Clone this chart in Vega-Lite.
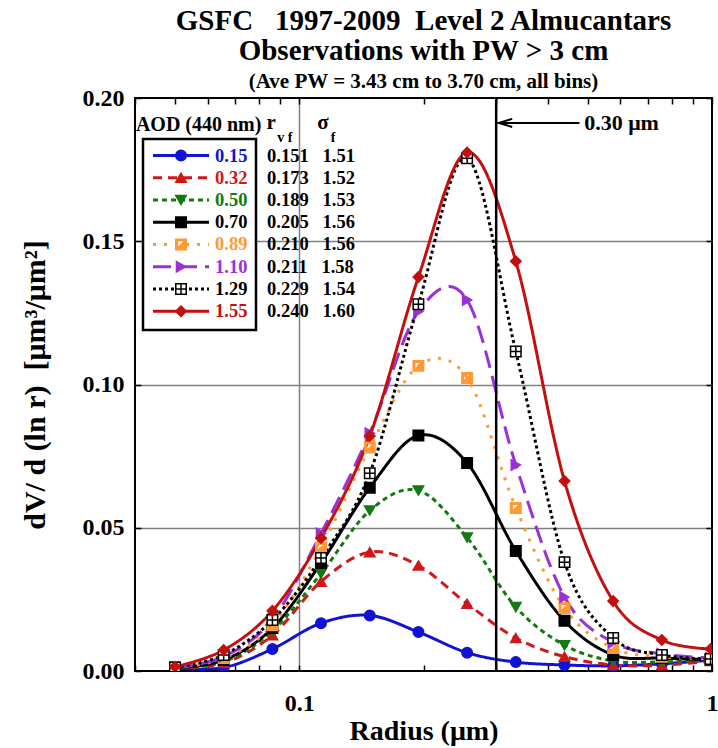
{
  "$schema": "https://vega.github.io/schema/vega-lite/v6.json",
  "width": 577,
  "height": 573,
  "autosize": {"type": "none"},
  "padding": {"left": 135, "top": 98, "right": 6, "bottom": 77},
  "background": "white",
  "config": {
    "view": {"stroke": "black", "strokeWidth": 2},
    "font": "Liberation Serif",
    "text": {"font": "Liberation Serif", "fontWeight": "bold", "color": "black"}
  },
  "title": {
    "text": ["GSFC\u00a0\u00a0\u00a01997-2009\u00a0\u00a0Level 2 Almucantars", "Observations with PW > 3 cm"],
    "subtitle": "(Ave PW = 3.43 cm to 3.70 cm, all bins)",
    "anchor": "middle",
    "font": "Liberation Serif",
    "fontSize": 29,
    "fontWeight": "bold",
    "color": "black",
    "lineHeight": 30,
    "subtitleFont": "Liberation Serif",
    "subtitleFontSize": 21,
    "subtitleFontWeight": "bold",
    "subtitleColor": "black",
    "subtitlePadding": 5,
    "offset": -6
  },
  "datasets": {
    "params": [
      {"AOD": "0.15", "rvf": "0.151", "sigma": "1.51"},
      {"AOD": "0.32", "rvf": "0.173", "sigma": "1.52"},
      {"AOD": "0.50", "rvf": "0.189", "sigma": "1.53"},
      {"AOD": "0.70", "rvf": "0.205", "sigma": "1.56"},
      {"AOD": "0.89", "rvf": "0.210", "sigma": "1.56"},
      {"AOD": "1.10", "rvf": "0.211", "sigma": "1.58"},
      {"AOD": "1.29", "rvf": "0.229", "sigma": "1.54"},
      {"AOD": "1.55", "rvf": "0.240", "sigma": "1.60"}
    ],
    "curves": [
      {"AOD": "0.15", "r": 0.05, "dv": 0.0010}, {"AOD": "0.15", "r": 0.0656, "dv": 0.0012}, {"AOD": "0.15", "r": 0.0861, "dv": 0.0077}, {"AOD": "0.15", "r": 0.1129, "dv": 0.0167}, {"AOD": "0.15", "r": 0.1482, "dv": 0.0194}, {"AOD": "0.15", "r": 0.1944, "dv": 0.0136}, {"AOD": "0.15", "r": 0.2551, "dv": 0.0064}, {"AOD": "0.15", "r": 0.3347, "dv": 0.0031}, {"AOD": "0.15", "r": 0.4392, "dv": 0.0021}, {"AOD": "0.15", "r": 0.5762, "dv": 0.0018}, {"AOD": "0.15", "r": 0.7561, "dv": 0.0025}, {"AOD": "0.15", "r": 0.992, "dv": 0.0038},
      {"AOD": "0.32", "r": 0.05, "dv": 0.0012}, {"AOD": "0.32", "r": 0.0656, "dv": 0.0028}, {"AOD": "0.32", "r": 0.0861, "dv": 0.0125}, {"AOD": "0.32", "r": 0.1129, "dv": 0.0312}, {"AOD": "0.32", "r": 0.1482, "dv": 0.0415}, {"AOD": "0.32", "r": 0.1944, "dv": 0.0368}, {"AOD": "0.32", "r": 0.2551, "dv": 0.0235}, {"AOD": "0.32", "r": 0.3347, "dv": 0.0115}, {"AOD": "0.32", "r": 0.4392, "dv": 0.0050}, {"AOD": "0.32", "r": 0.5762, "dv": 0.0021}, {"AOD": "0.32", "r": 0.7561, "dv": 0.0020}, {"AOD": "0.32", "r": 0.992, "dv": 0.0035},
      {"AOD": "0.50", "r": 0.05, "dv": 0.0012}, {"AOD": "0.50", "r": 0.0656, "dv": 0.0032}, {"AOD": "0.50", "r": 0.0861, "dv": 0.0140}, {"AOD": "0.50", "r": 0.1129, "dv": 0.0340}, {"AOD": "0.50", "r": 0.1482, "dv": 0.0560}, {"AOD": "0.50", "r": 0.1944, "dv": 0.0630}, {"AOD": "0.50", "r": 0.2551, "dv": 0.0466}, {"AOD": "0.50", "r": 0.3347, "dv": 0.0223}, {"AOD": "0.50", "r": 0.4392, "dv": 0.0090}, {"AOD": "0.50", "r": 0.5762, "dv": 0.0035}, {"AOD": "0.50", "r": 0.7561, "dv": 0.0032}, {"AOD": "0.50", "r": 0.992, "dv": 0.0040},
      {"AOD": "0.70", "r": 0.05, "dv": 0.0012}, {"AOD": "0.70", "r": 0.0656, "dv": 0.0038}, {"AOD": "0.70", "r": 0.0861, "dv": 0.0150}, {"AOD": "0.70", "r": 0.1129, "dv": 0.0377}, {"AOD": "0.70", "r": 0.1482, "dv": 0.0640}, {"AOD": "0.70", "r": 0.1944, "dv": 0.0822}, {"AOD": "0.70", "r": 0.2551, "dv": 0.0726}, {"AOD": "0.70", "r": 0.3347, "dv": 0.0419}, {"AOD": "0.70", "r": 0.4392, "dv": 0.0175}, {"AOD": "0.70", "r": 0.5762, "dv": 0.0056}, {"AOD": "0.70", "r": 0.7561, "dv": 0.0045}, {"AOD": "0.70", "r": 0.992, "dv": 0.0040},
      {"AOD": "0.89", "r": 0.05, "dv": 0.0012}, {"AOD": "0.89", "r": 0.0656, "dv": 0.0045}, {"AOD": "0.89", "r": 0.0861, "dv": 0.0160}, {"AOD": "0.89", "r": 0.1129, "dv": 0.0430}, {"AOD": "0.89", "r": 0.1482, "dv": 0.0780}, {"AOD": "0.89", "r": 0.1944, "dv": 0.1065}, {"AOD": "0.89", "r": 0.2551, "dv": 0.1023}, {"AOD": "0.89", "r": 0.3347, "dv": 0.0569}, {"AOD": "0.89", "r": 0.4392, "dv": 0.0220}, {"AOD": "0.89", "r": 0.5762, "dv": 0.0080}, {"AOD": "0.89", "r": 0.7561, "dv": 0.0050}, {"AOD": "0.89", "r": 0.992, "dv": 0.0042},
      {"AOD": "1.10", "r": 0.05, "dv": 0.0012}, {"AOD": "1.10", "r": 0.0656, "dv": 0.0050}, {"AOD": "1.10", "r": 0.0861, "dv": 0.0180}, {"AOD": "1.10", "r": 0.1129, "dv": 0.0480}, {"AOD": "1.10", "r": 0.1482, "dv": 0.0830}, {"AOD": "1.10", "r": 0.1944, "dv": 0.1255}, {"AOD": "1.10", "r": 0.2551, "dv": 0.1295}, {"AOD": "1.10", "r": 0.3347, "dv": 0.0719}, {"AOD": "1.10", "r": 0.4392, "dv": 0.0258}, {"AOD": "1.10", "r": 0.5762, "dv": 0.0100}, {"AOD": "1.10", "r": 0.7561, "dv": 0.0060}, {"AOD": "1.10", "r": 0.992, "dv": 0.0045},
      {"AOD": "1.29", "r": 0.05, "dv": 0.0012}, {"AOD": "1.29", "r": 0.0656, "dv": 0.0056}, {"AOD": "1.29", "r": 0.0861, "dv": 0.0178}, {"AOD": "1.29", "r": 0.1129, "dv": 0.0394}, {"AOD": "1.29", "r": 0.1482, "dv": 0.0690}, {"AOD": "1.29", "r": 0.1944, "dv": 0.1280}, {"AOD": "1.29", "r": 0.2551, "dv": 0.1790}, {"AOD": "1.29", "r": 0.3347, "dv": 0.1115}, {"AOD": "1.29", "r": 0.4392, "dv": 0.0380}, {"AOD": "1.29", "r": 0.5762, "dv": 0.0115}, {"AOD": "1.29", "r": 0.7561, "dv": 0.0056}, {"AOD": "1.29", "r": 0.992, "dv": 0.0042},
      {"AOD": "1.55", "r": 0.05, "dv": 0.0015}, {"AOD": "1.55", "r": 0.0656, "dv": 0.0073}, {"AOD": "1.55", "r": 0.0861, "dv": 0.0210}, {"AOD": "1.55", "r": 0.1129, "dv": 0.0464}, {"AOD": "1.55", "r": 0.1482, "dv": 0.0820}, {"AOD": "1.55", "r": 0.1944, "dv": 0.1375}, {"AOD": "1.55", "r": 0.2551, "dv": 0.1810}, {"AOD": "1.55", "r": 0.3347, "dv": 0.1430}, {"AOD": "1.55", "r": 0.4392, "dv": 0.0663}, {"AOD": "1.55", "r": 0.5762, "dv": 0.0244}, {"AOD": "1.55", "r": 0.7561, "dv": 0.0108}, {"AOD": "1.55", "r": 0.992, "dv": 0.0077}
    ]
  },
  "resolve": {"axis": {"x": "independent", "y": "independent"}},
  "layer": [
    {
      "data": {"name": "curves"},
      "transform": [
        {"lookup": "AOD", "from": {"data": {"name": "params"}, "key": "AOD", "fields": ["rvf", "sigma"]}},
        {"calculate": "datum.rvf + '\u00a0\u00a0\u00a0' + datum.sigma", "as": "stats"}
      ],
      "mark": {"type": "line", "interpolate": "cardinal", "tension": 0, "strokeWidth": 3, "clip": true},
      "encoding": {
        "x": {
          "field": "r", "type": "quantitative",
          "scale": {"type": "log", "domain": [0.04, 1], "nice": false},
          "axis": {
            "orient": "bottom",
            "values": [0.04, 0.05, 0.06, 0.07, 0.08, 0.09, 0.1, 0.2, 0.3, 0.4, 0.5, 0.6, 0.7, 0.8, 0.9, 1],
            "labelExpr": "datum.value == 0.1 ? '0.1' : (datum.value == 1 ? '1' : '')",
            "labelFont": "Liberation Serif", "labelFontSize": 24, "labelFontWeight": "bold", "labelColor": "black",
            "labelPadding": 26, "labelFlush": false, "labelOverlap": false,
            "tickSize": -6, "tickWidth": 1.5, "tickColor": "black",
            "domain": false,
            "grid": true, "gridColor": "#808080", "gridWidth": 1.5,
            "gridOpacity": {"condition": {"test": "datum.value == 0.1", "value": 1}, "value": 0},
            "title": "Radius (μm)",
            "titleFont": "Liberation Serif", "titleFontSize": 28, "titleFontWeight": "bold", "titleColor": "black",
            "titlePadding": 2
          }
        },
        "y": {
          "field": "dv", "type": "quantitative",
          "scale": {"domain": [0, 0.2], "nice": false},
          "axis": {
            "orient": "left",
            "values": [0, 0.05, 0.1, 0.15, 0.2],
            "format": ".2f",
            "labelFont": "Liberation Serif", "labelFontSize": 24, "labelFontWeight": "bold", "labelColor": "black",
            "labelPadding": 17,
            "tickSize": -6, "tickWidth": 1.5, "tickColor": "black",
            "domain": false,
            "grid": true, "gridColor": "#808080", "gridWidth": 1.5,
            "gridOpacity": {"condition": {"test": "datum.value > 0.01 && datum.value < 0.19", "value": 1}, "value": 0},
            "title": "dV/ d (ln r)\u00a0\u00a0[μm³/μm²]",
            "titleFont": "Liberation Serif", "titleFontSize": 30, "titleFontWeight": "bold", "titleColor": "black",
            "titlePadding": 32
          }
        },
        "color": {
          "field": "AOD", "type": "nominal",
          "scale": {
            "domain": ["0.15", "0.32", "0.50", "0.70", "0.89", "1.10", "1.29", "1.55"],
            "range": ["#1212d4", "#d01818", "#137a13", "#000000", "#ff9933", "#9b30d9", "#000000", "#c40f0f"]
          },
          "legend": {
            "orient": "none", "legendX": 8, "legendY": 41,
            "title": null,
            "symbolType": "stroke", "symbolSize": 3136, "symbolStrokeWidth": 3,
            "clipHeight": 16, "rowPadding": 3.24, "padding": 8.5,
            "strokeColor": "black", "fillColor": "white",
            "labelFont": "Liberation Serif", "labelFontSize": 18.5, "labelFontWeight": "bold",
            "labelOffset": 4.5, "labelLimit": 200,
            "encode": {
              "labels": {"update": {"fill": {"scale": "color", "field": "value"}}},
              "legend": {"update": {"strokeWidth": {"value": 2.5}}}
            }
          }
        },
        "strokeDash": {
          "field": "AOD", "type": "nominal",
          "scale": {
            "domain": ["0.15", "0.32", "0.50", "0.70", "0.89", "1.10", "1.29", "1.55"],
            "range": [[1, 0], [9, 6], [5, 4], [1, 0], [3, 8], [18, 8], [3, 3], [1, 0]]
          }
        },
        "opacity": {
          "field": "stats", "type": "nominal",
          "scale": {"range": [1, 1, 1, 1, 1, 1, 1, 1]},
          "legend": {
            "orient": "none", "legendX": 105, "legendY": 41,
            "title": null,
            "symbolSize": 0, "symbolOpacity": 0, "symbolStrokeWidth": 0,
            "clipHeight": 16, "rowPadding": 3.24, "padding": 8.5,
            "labelFont": "Liberation Serif", "labelFontSize": 18.5, "labelFontWeight": "bold", "labelColor": "black",
            "labelOffset": 0, "labelLimit": 300
          }
        }
      }
    },
    {
      "data": {"name": "curves"},
      "mark": {"type": "point", "size": 110, "strokeWidth": 1.5, "opacity": 1, "clip": true},
      "encoding": {
        "x": {
          "field": "r", "type": "quantitative",
          "axis": {
            "orient": "top",
            "values": [0.04, 0.05, 0.06, 0.07, 0.08, 0.09, 0.1, 0.2, 0.3, 0.4, 0.5, 0.6, 0.7, 0.8, 0.9, 1],
            "labels": false, "tickSize": -6, "tickWidth": 1.5, "tickColor": "black",
            "domain": false, "grid": false, "title": null
          }
        },
        "y": {
          "field": "dv", "type": "quantitative",
          "axis": {
            "orient": "right",
            "values": [0, 0.05, 0.1, 0.15, 0.2],
            "labels": false, "tickSize": -6, "tickWidth": 1.5, "tickColor": "black",
            "domain": false, "grid": false, "title": null
          }
        },
        "shape": {
          "field": "AOD", "type": "nominal",
          "scale": {"range": ["circle", "triangle-up", "triangle-down", "square", "M-1,-1H1V1H-1Z M-0.7,-0.7V0.7H0.7V-0.7Z M0.7,-0.7L0.7,0.7L-0.7,0.7Z", "triangle-right", "M-1,-1H1V1H-1Z M0,-1V1 M-1,0H1", "diamond"]},
          "legend": {
            "orient": "none", "legendX": 8, "legendY": 41,
            "title": null,
            "symbolSize": 110, "symbolStrokeWidth": 1.5, "symbolOffset": 20.25,
            "clipHeight": 16, "rowPadding": 3.24, "padding": 8.5,
            "labelFont": "Liberation Serif", "labelFontSize": 18.5, "labelFontWeight": "bold",
            "labelExpr": "''"
          }
        },
        "fill": {
          "field": "AOD", "type": "nominal",
          "scale": {"range": ["#1212d4", "#d01818", "#137a13", "#000000", "#ff9933", "#9b30d9", "#ffffff", "#c40f0f"]}
        },
        "stroke": {
          "field": "AOD", "type": "nominal",
          "scale": {"range": ["#1212d4", "#d01818", "#137a13", "#000000", "#ff9933", "#9b30d9", "#000000", "#c40f0f"]}
        }
      }
    },
    {
      "data": {"values": [{}]},
      "mark": {"type": "rule", "strokeWidth": 2.5, "color": "black"},
      "encoding": {"x": {"datum": 0.3, "type": "quantitative", "axis": null}}
    },
    {
      "data": {"values": [{}]},
      "mark": {"type": "rule", "strokeWidth": 2, "color": "black"},
      "encoding": {
        "x": {"datum": 0.31, "type": "quantitative", "axis": null},
        "x2": {"datum": 0.4775},
        "y": {"datum": 0.1913, "type": "quantitative", "axis": null}
      }
    },
    {
      "data": {"values": [{}]},
      "mark": {"type": "point", "shape": "M1,-0.6L-1,0L1,0.6", "size": 180, "stroke": "black", "strokeWidth": 2, "filled": false, "opacity": 1},
      "encoding": {
        "x": {"datum": 0.316, "type": "quantitative", "axis": null},
        "y": {"datum": 0.1913, "type": "quantitative", "axis": null}
      }
    },
    {
      "data": {"values": [{}]},
      "mark": {"type": "text", "text": "0.30 μm", "align": "left", "baseline": "middle", "fontSize": 22},
      "encoding": {
        "x": {"datum": 0.49, "type": "quantitative", "axis": null},
        "y": {"datum": 0.1913, "type": "quantitative", "axis": null}
      }
    },
    {
      "data": {"values": [{}]},
      "mark": {"type": "text", "text": "AOD (440 nm)", "align": "left", "baseline": "middle", "fontSize": 20},
      "encoding": {
        "x": {"datum": 0.0402, "type": "quantitative", "axis": null},
        "y": {"datum": 0.1906, "type": "quantitative", "axis": null}
      }
    },
    {
      "data": {"values": [{}]},
      "mark": {"type": "text", "text": "r", "align": "left", "baseline": "middle", "fontSize": 21},
      "encoding": {
        "x": {"datum": 0.0833, "type": "quantitative", "axis": null},
        "y": {"datum": 0.1911, "type": "quantitative", "axis": null}
      }
    },
    {
      "data": {"values": [{}]},
      "mark": {"type": "text", "text": "v f", "align": "left", "baseline": "middle", "fontSize": 14},
      "encoding": {
        "x": {"datum": 0.0884, "type": "quantitative", "axis": null},
        "y": {"datum": 0.1862, "type": "quantitative", "axis": null}
      }
    },
    {
      "data": {"values": [{}]},
      "mark": {"type": "text", "text": "σ", "align": "left", "baseline": "middle", "fontSize": 21},
      "encoding": {
        "x": {"datum": 0.1105, "type": "quantitative", "axis": null},
        "y": {"datum": 0.1914, "type": "quantitative", "axis": null}
      }
    },
    {
      "data": {"values": [{}]},
      "mark": {"type": "text", "text": "f", "align": "left", "baseline": "middle", "fontSize": 14},
      "encoding": {
        "x": {"datum": 0.1192, "type": "quantitative", "axis": null},
        "y": {"datum": 0.1862, "type": "quantitative", "axis": null}
      }
    }
  ]
}
